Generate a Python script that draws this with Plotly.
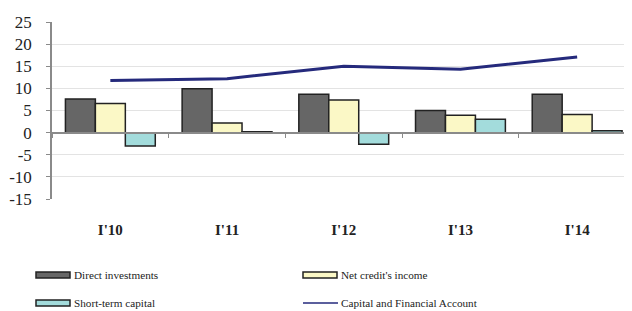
import plotly.graph_objects as go

categories = ["I'10", "I'11", "I'12", "I'13", "I'14"]
direct_investments = [7.6, 9.9, 8.7, 5.0, 8.7]
net_credit_income = [6.6, 2.2, 7.4, 3.9, 4.1]
short_term_capital = [-3.0, 0.2, -2.6, 3.0, 0.4]
capital_financial = [11.8, 12.2, 15.0, 14.3, 17.1]
y_ticks = [-15, -10, -5, 0, 5, 10, 15, 20, 25]
y_tick_labels = ["-15", "-10", "-5", "0", "5", "10", "15", "20", "25"]

names = ["Direct investments", "Net credit's income", "Short-term capital",
         "Capital and Financial Account"]
colors = ["#666666", "#FBF8C6", "#A3DCDC", "#252A7C"]

# page body has an 8px margin, so the figure is offset by 8px
OFF = 8
W, H = 632 - OFF, 311 - OFF
ML, MR, MT = 52 - OFF, 0, 22 - OFF
PH = 177
MB = H - MT - PH
PW = W - ML - MR
FONT = "Liberation Serif, Times New Roman, serif"

fig = go.Figure()
for vals, name, col in zip([direct_investments, net_credit_income, short_term_capital],
                           names[:3], colors[:3]):
    fig.add_trace(go.Bar(x=categories, y=vals, name=name, marker_color=col,
                         marker_line=dict(color="#222222", width=1.5),
                         showlegend=False, xaxis="x", yaxis="y"))
fig.add_trace(go.Scatter(x=categories, y=capital_financial, mode="lines",
                         name=names[3], line=dict(color=colors[3], width=3),
                         showlegend=False, xaxis="x2", yaxis="y"))

fig.update_layout(
    width=W, height=H,
    margin=dict(l=ML, r=MR, t=MT, b=MB),
    paper_bgcolor="white", plot_bgcolor="white",
    barmode="group", bargap=0.23, bargroupgap=0,
    font=dict(family=FONT, color="#222222"),
    xaxis=dict(type="category", range=[-0.5, 4.47], showline=False, ticks="",
               showgrid=False, zeroline=False, automargin=False,
               tickfont=dict(family=FONT, size=15, color="#222222", weight="bold"),
               ticklabelstandoff=20),
    xaxis2=dict(type="category", overlaying="x", matches="x", anchor="free",
                position=15 / 40, showline=True, linecolor="#8a8a8a", linewidth=1.5,
                ticks="outside", tickson="boundaries", ticklen=5, tickcolor="#8a8a8a",
                showticklabels=False, showgrid=False, zeroline=False, automargin=False),
    yaxis=dict(range=[-15, 25], tickvals=y_ticks, ticktext=y_tick_labels,
               showgrid=True, gridcolor="#E3E3E3", gridwidth=1, zeroline=False,
               showline=True, linecolor="#8a8a8a", linewidth=1.5,
               ticks="outside", ticklen=4, tickcolor="#8a8a8a",
               ticklabelstandoff=11, automargin=False,
               tickfont=dict(family=FONT, size=17, color="#222222")),
)

def px(x):
    return (x - OFF - ML) / PW

def py(y):
    return (MT + PH - (y - OFF)) / PH

legend_pos = [(36, 275), (303, 275), (36, 303), (303, 303)]
for i, (name, col) in enumerate(zip(names, colors)):
    lx, ly = legend_pos[i]
    if i < 3:
        fig.add_shape(type="rect", xref="paper", yref="paper",
                      x0=px(lx), x1=px(lx + 34), y0=py(ly + 3), y1=py(ly - 3),
                      fillcolor=col, line=dict(color="#222222", width=1.5))
    else:
        fig.add_shape(type="line", xref="paper", yref="paper",
                      x0=px(lx), x1=px(lx + 35), y0=py(ly), y1=py(ly),
                      line=dict(color=col, width=1.5))
    fig.add_annotation(text=name, xref="paper", yref="paper", x=px(lx + 36), y=py(ly),
                       xanchor="left", yanchor="middle", showarrow=False,
                       font=dict(family=FONT, size=11.2, color="#222222"))

fig.write_html("out.html")
